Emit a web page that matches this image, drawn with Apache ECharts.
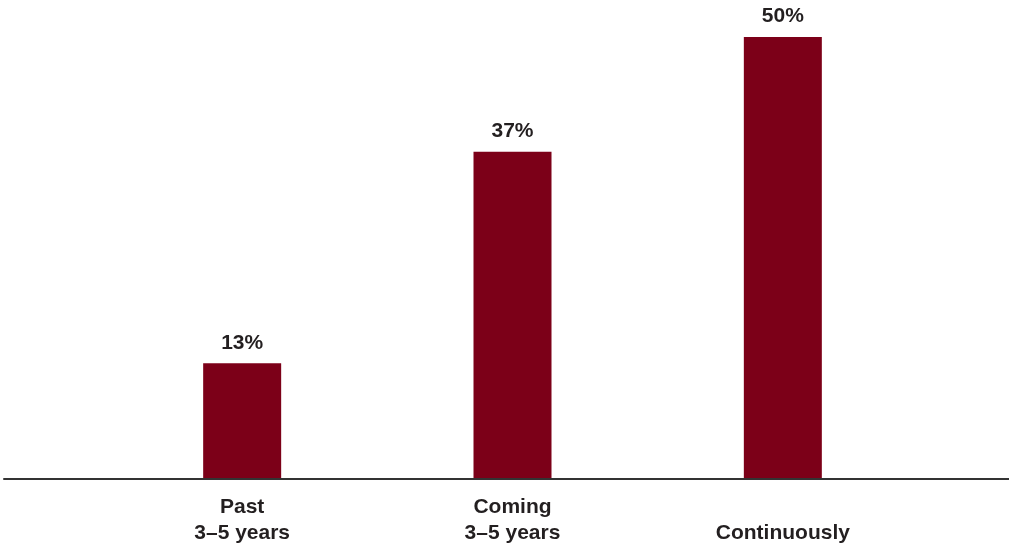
<!DOCTYPE html>
<html>
<head>
<meta charset="utf-8">
<style>
  html, body { margin: 0; padding: 0; background: #ffffff; }
  #chart { width: 1009px; height: 546px; }
</style>
<script src="https://cdn.jsdelivr.net/npm/echarts@6/dist/echarts.min.js"></script>
</head>
<body>
<div id="chart"></div>
<script>
// Share of respondents, by timing
const categories = ['Past\n3–5 years', 'Coming\n3–5 years', 'Continuously'];
const shares = [13, 37, 50];

const barColor = '#7c0018';
const textColor = '#231f20';
const fontFamily = '"Liberation Sans", Arial, Helvetica, sans-serif';

const chart = echarts.init(document.getElementById('chart'), null, { renderer: 'canvas' });

chart.setOption({
  backgroundColor: '#ffffff',
  animation: false,
  grid: [
    { left: 107, right: 91, top: 37, bottom: 67 },
    { left: 4, right: 0, top: 37, bottom: 67 }
  ],
  xAxis: [
    {
      type: 'category',
      gridIndex: 0,
      data: categories,
      axisLine: { show: false },
      axisTick: { show: false },
      axisLabel: {
        color: textColor,
        fontFamily: fontFamily,
        fontWeight: 'bold',
        fontSize: 21,
        lineHeight: 26,
        margin: 16,
        interval: 0,
        // single-line names sit on the lower line, where the two-line ones end
        formatter: v => (v.indexOf('\n') >= 0 ? v : '\n' + v)
      }
    },
    {
      type: 'category',
      gridIndex: 1,
      data: [''],
      axisLine: { show: true, lineStyle: { color: '#333333', width: 2 } },
      axisTick: { show: false },
      axisLabel: { show: false }
    }
  ],
  yAxis: [
    {
      type: 'value',
      gridIndex: 0,
      min: 0,
      max: 50,
      show: false,
      splitLine: { show: false }
    },
    {
      type: 'value',
      gridIndex: 1,
      min: 0,
      max: 50,
      show: false,
      splitLine: { show: false }
    }
  ],
  series: [
    {
      type: 'bar',
      xAxisIndex: 0,
      yAxisIndex: 0,
      data: shares,
      barWidth: 78,
      itemStyle: { color: barColor },
      label: {
        show: true,
        position: 'top',
        distance: 10,
        color: textColor,
        fontFamily: fontFamily,
        fontWeight: 'bold',
        fontSize: 21,
        formatter: p => p.value + '%'
      }
    }
  ]
});
</script>
</body>
</html>
